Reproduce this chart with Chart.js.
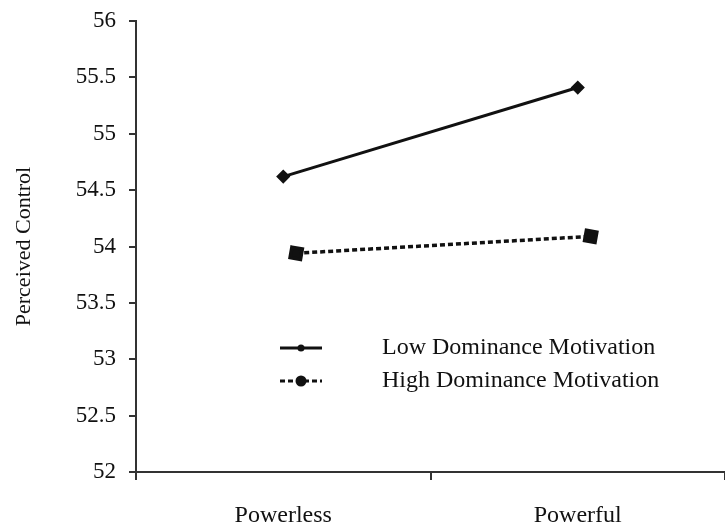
<!DOCTYPE html>
<html>
<head>
<meta charset="utf-8">
<script src="https://cdn.jsdelivr.net/npm/chart.js@4.4.1/dist/chart.umd.min.js"></script>
<style>
	html, body { margin: 0; padding: 0; background: #fff; }
	#wrap { width: 725px; height: 529px; }
</style>
</head>
<body>
<div id="wrap"><canvas id="myChart" width="725" height="529"></canvas></div>
<script>
// Data
var categories = ['Powerless', 'Powerful'];
var lowDominance = [54.62, 55.41];
var highDominance = [53.94, 54.09];
var seriesNames = ['Low Dominance Motivation', 'High Dominance Motivation'];
var yMin = 52, yMax = 56, yStep = 0.5;

var FONT = 'Liberation Serif, Times New Roman, serif';
var INK = '#111';

// legend drawn inside the plot, below the lines
var innerLegend = {
	id: 'innerLegend',
	afterDatasetsDraw: function (chart) {
		var ctx = chart.ctx;
		var rows = [
			{ y: 348, ds: chart.data.datasets[0], dot: 3.5 },
			{ y: 381, ds: chart.data.datasets[1], dot: 5.5 },
		];
		ctx.save();
		rows.forEach(function (r) {
			ctx.strokeStyle = INK;
			ctx.fillStyle = INK;
			ctx.lineWidth = 3;
			ctx.setLineDash(r.ds.borderDash || []);
			ctx.beginPath();
			ctx.moveTo(280, r.y);
			ctx.lineTo(322, r.y);
			ctx.stroke();
			ctx.setLineDash([]);
			ctx.beginPath();
			ctx.arc(301, r.y, r.dot, 0, Math.PI * 2);
			ctx.fill();
			ctx.font = '24px ' + FONT;
			ctx.textBaseline = 'middle';
			ctx.textAlign = 'left';
			ctx.fillText(r.ds.label, 382, r.y);
		});
		ctx.restore();
	},
};

new Chart(document.getElementById('myChart'), {
	type: 'line',
	data: {
		labels: categories,
		datasets: [
			{
				label: seriesNames[0],
				data: lowDominance,
				xAxisID: 'x',
				borderColor: INK,
				backgroundColor: INK,
				borderWidth: 3,
				pointStyle: 'rectRot',
				pointRadius: 5,
				tension: 0,
			},
			{
				label: seriesNames[1],
				// the high series sits a little to the right of the category centres
				data: highDominance.map(function (v, i) { return { x: i, y: v }; }),
				xAxisID: 'xb',
				borderColor: INK,
				backgroundColor: INK,
				borderWidth: 3.5,
				borderDash: [5, 3],
				pointStyle: 'rect',
				pointRotation: 10,
				pointRadius: 7.5,
				tension: 0,
			},
		],
	},
	options: {
		responsive: false,
		animation: false,
		devicePixelRatio: 1,
		layout: { autoPadding: false, padding: { top: 0, right: 0, left: 0, bottom: 0 } },
		plugins: {
			legend: { display: false },
			tooltip: { enabled: false },
		},
		scales: {
			x: {
				type: 'category',
				offset: true,
				border: { color: '#333', width: 2 },
				grid: { offset: true, drawOnChartArea: false, tickLength: 8, color: '#333', lineWidth: 2 },
				ticks: { color: INK, font: { family: FONT, size: 24 }, padding: 21 },
				afterFit: function (scale) { scale.height = 57; },
			},
			xb: {
				type: 'linear',
				display: false,
				min: -0.5 - 0.044,
				max: 1.5 - 0.044,
			},
			y: {
				min: yMin,
				max: yMax,
				border: { color: '#333', width: 2 },
				grid: { drawOnChartArea: false, tickLength: 7, color: '#333', lineWidth: 2 },
				ticks: {
					stepSize: yStep,
					color: INK,
					font: { family: FONT, size: 23 },
					padding: 13,
					callback: function (v) { return String(v); },
				},
				title: {
					display: true,
					text: 'Perceived Control',
					color: INK,
					font: { family: FONT, size: 22 },
					padding: { top: 11, bottom: 0 },
				},
				afterFit: function (scale) {
					scale.width = 136;
					scale.paddingTop = 21;
				},
			},
		},
	},
	plugins: [innerLegend],
});
</script>
</body>
</html>
